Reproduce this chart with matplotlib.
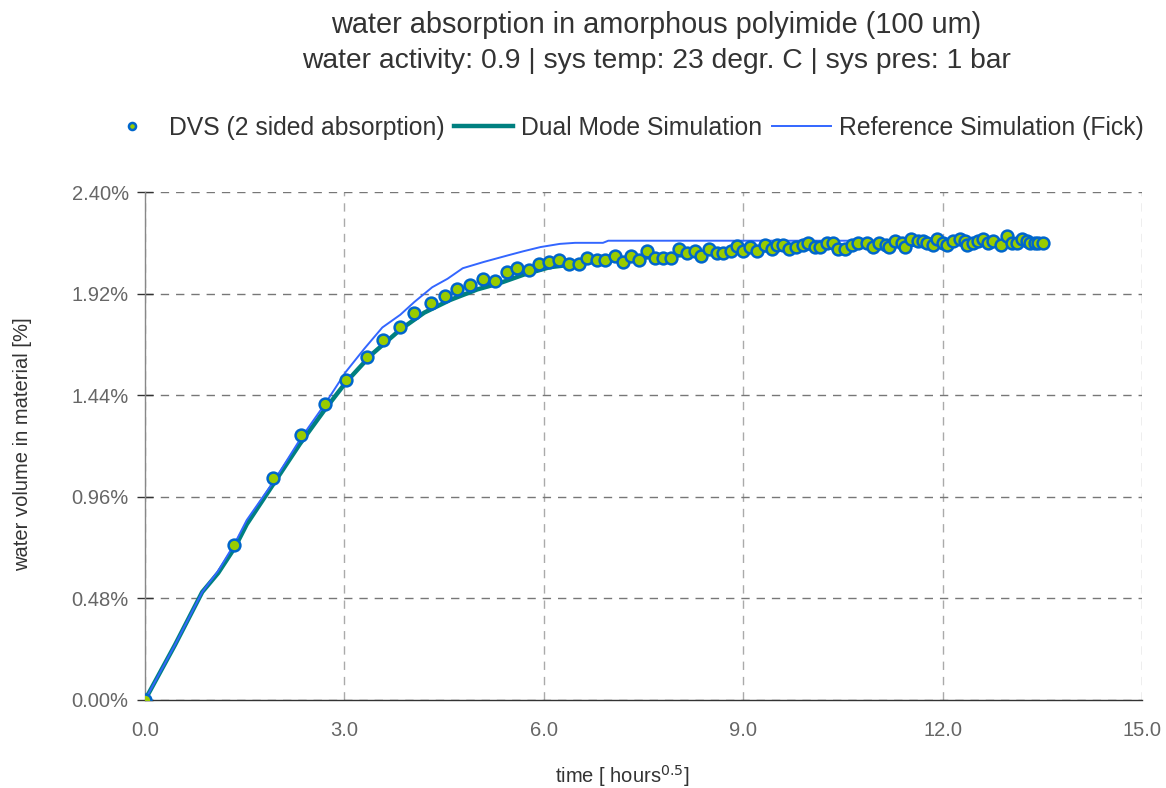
import matplotlib
matplotlib.use("Agg")
import matplotlib.pyplot as plt
from matplotlib.ticker import FuncFormatter

plt.rcParams.update({
    "font.family": ["Liberation Sans", "DejaVu Sans"],
    "axes.linewidth": 1.0,
})

# ── Data ─────────────────────────────────────────────────────────────────
dvs_t = [0.00, 1.34, 1.93, 2.35, 2.71, 3.02, 3.34, 3.58, 3.84, 4.05, 4.30, 4.51,
         4.69, 4.89, 5.09, 5.27, 5.45, 5.60, 5.78, 5.93, 6.08, 6.23, 6.38, 6.53,
         6.65, 6.80, 6.92, 7.07, 7.19, 7.31, 7.43, 7.55, 7.67, 7.79, 7.91, 8.03,
         8.15, 8.27, 8.36, 8.49, 8.61, 8.70, 8.82, 8.91, 9.00, 9.10, 9.21, 9.33,
         9.43, 9.51, 9.60, 9.69, 9.79, 9.90, 9.97, 10.08, 10.16, 10.26, 10.35,
         10.43, 10.53, 10.64, 10.73, 10.86, 10.95, 11.04, 11.15, 11.19, 11.28,
         11.39, 11.43, 11.52, 11.63, 11.70, 11.76, 11.85, 11.92, 12.01, 12.07,
         12.16, 12.26, 12.34, 12.37, 12.46, 12.53, 12.61, 12.68, 12.76, 12.88,
         12.97, 13.04, 13.12, 13.19, 13.27, 13.31, 13.39, 13.43, 13.51]
dvs_w = [0.00, 0.73, 1.05, 1.25, 1.40, 1.51, 1.62, 1.70, 1.76, 1.83, 1.875, 1.91,
         1.94, 1.96, 1.99, 1.98, 2.02, 2.04, 2.03, 2.06, 2.07, 2.08, 2.06, 2.06,
         2.09, 2.08, 2.08, 2.10, 2.07, 2.10, 2.08, 2.12, 2.09, 2.09, 2.09, 2.13,
         2.11, 2.12, 2.10, 2.13, 2.11, 2.11, 2.12, 2.145, 2.12, 2.14, 2.12, 2.15,
         2.13, 2.15, 2.15, 2.13, 2.14, 2.15, 2.16, 2.14, 2.14, 2.16, 2.16,
         2.13, 2.13, 2.15, 2.16, 2.16, 2.14, 2.16, 2.15, 2.14, 2.17,
         2.16, 2.14, 2.18, 2.17, 2.17, 2.16, 2.15, 2.18, 2.16, 2.15,
         2.17, 2.18, 2.17, 2.15, 2.16, 2.17, 2.18, 2.16, 2.17, 2.15,
         2.19, 2.16, 2.16, 2.18, 2.17, 2.16, 2.16, 2.16, 2.16]

dual_t = [0.0, 0.45, 0.86, 1.10, 1.35, 1.53, 1.93, 2.33, 2.70, 3.02, 3.40, 3.84,
          4.20, 4.59, 5.00, 5.34, 5.70, 6.09, 6.50, 7.00, 8.00, 9.00, 10.0, 11.0,
          12.0, 13.0, 13.5]
dual_w = [0.0, 0.26, 0.51, 0.60, 0.72, 0.83, 1.02, 1.21, 1.37, 1.50, 1.63, 1.75,
          1.83, 1.89, 1.94, 1.97, 2.01, 2.045, 2.06, 2.08, 2.10, 2.12, 2.135, 2.145,
          2.155, 2.16, 2.16]

fick_t = [0.0, 0.45, 0.86, 1.10, 1.35, 1.53, 1.93, 2.33, 2.71, 3.02, 3.30, 3.57,
          3.84, 4.05, 4.32, 4.55, 4.78, 5.10, 5.45, 5.69, 5.95, 6.24, 6.47, 6.89,
          6.97, 8.0, 9.0, 10.0, 11.0, 12.0, 13.0, 13.5]
fick_w = [0.0, 0.26, 0.51, 0.61, 0.74, 0.85, 1.03, 1.23, 1.40, 1.55, 1.66, 1.76,
          1.82, 1.88, 1.95, 1.99, 2.04, 2.07, 2.10, 2.12, 2.14, 2.155, 2.16, 2.16,
          2.17, 2.17, 2.17, 2.17, 2.17, 2.17, 2.17, 2.17]

x_ticks = [0.0, 3.0, 6.0, 9.0, 12.0, 15.0]
y_ticks = [0.00, 0.48, 0.96, 1.44, 1.92, 2.40]

DVS_FACE = "#99CC00"
DVS_EDGE = "#0066CC"
DUAL_COLOR = "#008080"
FICK_COLOR = "#3366FF"
TEXT_COLOR = "#333333"
TICK_COLOR = "#666666"

# ── Figure ───────────────────────────────────────────────────────────────
fig = plt.figure(figsize=(11.66, 7.88), dpi=100)
ax = fig.add_axes([0.1244, 0.1117, 0.855, 0.6446])

ax.plot(dual_t, dual_w, color=DUAL_COLOR, lw=3.2, label="Dual Mode Simulation", zorder=3)
ax.plot(fick_t, fick_w, color=FICK_COLOR, lw=1.4, label="Reference Simulation (Fick)", zorder=4)
ax.plot(dvs_t, dvs_w, linestyle="none", marker="o", markersize=8.5,
        markerfacecolor=DVS_FACE, markeredgecolor=DVS_EDGE, markeredgewidth=1.8,
        label="DVS (2 sided absorption)", zorder=5)

ax.set_xlim(0, 15)
ax.set_ylim(0, 2.40)
ax.set_xticks(x_ticks)
ax.set_yticks(y_ticks)
ax.xaxis.set_major_formatter(FuncFormatter(lambda v, p: f"{v:.1f}"))
ax.yaxis.set_major_formatter(FuncFormatter(lambda v, p: f"{v:.2f}%"))
ax.tick_params(axis="both", labelsize=14.5, labelcolor=TICK_COLOR)
ax.tick_params(axis="y", direction="inout", length=11.5, width=1, color="#333333", pad=6)
ax.tick_params(axis="x", length=0, pad=15)

ax.spines["top"].set_visible(False)
ax.spines["right"].set_visible(False)
ax.spines["left"].set_color("#888888")
ax.spines["bottom"].set_color("#333333")

ax.yaxis.grid(True, linestyle=(0, (6, 5)), color="#777777", lw=1)
ax.xaxis.grid(True, linestyle=(0, (6, 5)), color="#AAAAAA", lw=1)
ax.set_axisbelow(True)

# titles and labels
fig.text(0.5626, 0.958, "water absorption in amorphous polyimide (100 um)",
         ha="center", va="baseline", fontsize=20.8, color=TEXT_COLOR)
fig.text(0.5626, 0.9137, "water activity: 0.9 | sys temp: 23 degr. C | sys pres: 1 bar",
         ha="center", va="baseline", fontsize=20.3, color=TEXT_COLOR)
fig.text(0.534, 0.0063, r"time [ hours$^{0.5}$]", ha="center", va="baseline",
         fontsize=14.5, color=TEXT_COLOR)
fig.text(0.019, 0.4365, "water volume in material [%]", ha="center", va="center",
         rotation=90, fontsize=14.5, color=TEXT_COLOR)

handles, labels = ax.get_legend_handles_labels()
order = [2, 0, 1]
leg = fig.legend([handles[i] for i in order], [labels[i] for i in order],
                 loc="center", bbox_to_anchor=(0.534, 0.8376), ncols=3, frameon=False,
                 fontsize=17.8, handlelength=2.4, handletextpad=0.3, columnspacing=0.4,
                 markerscale=0.6)
for t in leg.get_texts():
    t.set_color(TEXT_COLOR)

fig.savefig("out.png", dpi=100)
